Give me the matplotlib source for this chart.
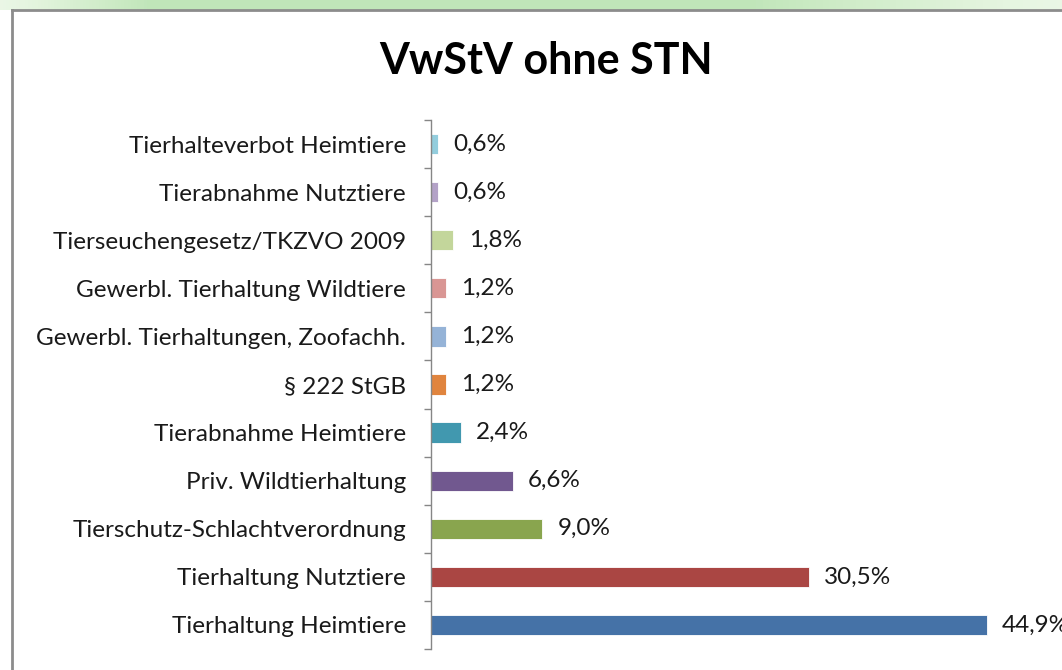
import matplotlib.pyplot as plt
import numpy as np

# data, bottom to top as drawn
categories = ["Tierhaltung Heimtiere", "Tierhaltung Nutztiere",
              "Tierschutz-Schlachtverordnung", "Priv. Wildtierhaltung",
              "Tierabnahme Heimtiere", "§ 222 StGB",
              "Gewerbl. Tierhaltungen, Zoofachh.", "Gewerbl. Tierhaltung Wildtiere",
              "Tierseuchengesetz/TKZVO 2009", "Tierabnahme Nutztiere",
              "Tierhalteverbot Heimtiere"]
values = [44.9, 30.5, 9.0, 6.6, 2.4, 1.2, 1.2, 1.2, 1.8, 0.6, 0.6]
value_labels = ["44,9%", "30,5%", "9,0%", "6,6%", "2,4%", "1,2%",
                "1,2%", "1,2%", "1,8%", "0,6%", "0,6%"]
colors = ["#4572A7", "#AA4643", "#89A54E", "#71588F", "#4198AF", "#E0843E",
          "#95B3D7", "#D99694", "#C3D69B", "#B3A2C7", "#93CDDD"]

title = "VwStV ohne STN"

plt.rcParams['font.family'] = ['Lato', 'DejaVu Sans']
textColor = "#1a1a1a"
W, H = 1062, 670

fig = plt.figure(figsize=(W / 100, H / 100), dpi=100)
fig.patch.set_facecolor("white")

# faint greenish strip above the chart frame
strip = fig.add_axes([0, 1 - 10 / H, 1, 10 / H])
grad = np.concatenate([np.linspace(0.0, 1.0, 150), np.ones(600), np.linspace(1.0, 0.0, 312)])
strip.imshow(grad[None, :], aspect="auto", cmap="Greens", vmin=-0.5, vmax=5, extent=[0, 1, 0, 1])
strip.set_axis_off()

# chart frame (left and top edge visible)
fig.add_artist(plt.Line2D([12 / W, 12 / W], [0, 1 - 10 / H], transform=fig.transFigure,
                          color="#8c8c8c", lw=2))
fig.add_artist(plt.Line2D([12 / W, 1], [1 - 10 / H, 1 - 10 / H], transform=fig.transFigure,
                          color="#8c8c8c", lw=2))

fig.text(546 / W, 1 - 61 / H, title, ha="center", va="center", fontsize=31,
         fontweight="bold", color="black")

ax = fig.add_axes([431 / W, 21 / H, 619 / W, 529 / H])
y = np.arange(len(categories))
ax.barh(y, values, height=0.42, color=colors, edgecolor="white", linewidth=0.6)
ax.set_xlim(0, 50)
ax.set_ylim(-0.5, len(categories) - 0.5)

for yi, v, lab in zip(y, values, value_labels):
    ax.annotate(lab, (v, yi), xytext=(11, 0), textcoords="offset points",
                ha="left", va="center", fontsize=17.5, color=textColor,
                annotation_clip=False)

ax.set_yticks(y)
ax.set_yticklabels(categories, fontsize=17.5, color=textColor)
ax.set_yticks(np.arange(-0.5, len(categories)), minor=True)
ax.tick_params(axis="y", which="major", length=0, pad=18)
ax.tick_params(axis="y", which="minor", length=5, width=1, color="#868686", direction="out")
ax.set_xticks([])
for s in ["top", "right", "bottom"]:
    ax.spines[s].set_visible(False)
ax.spines["left"].set_color("#868686")
ax.spines["left"].set_linewidth(1)

fig.savefig("out.png", dpi=100)
